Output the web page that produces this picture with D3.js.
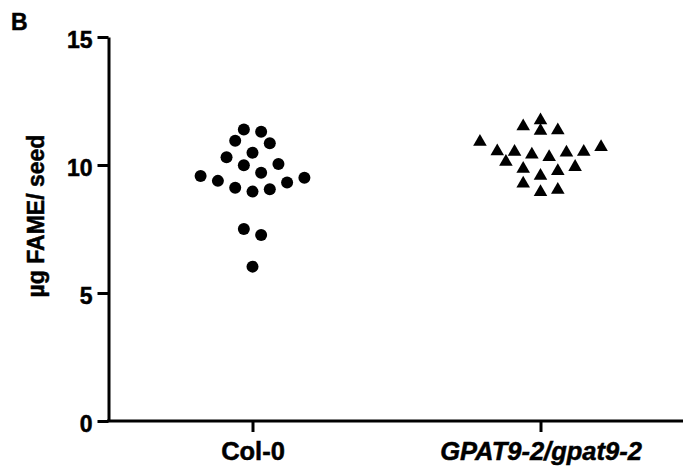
<!DOCTYPE html>
<html>
<head>
<meta charset="utf-8">
<script src="https://cdn.jsdelivr.net/npm/d3@7"></script>
<style>
  html, body { margin: 0; padding: 0; background: #fff; }
  svg { display: block; }
  text { font-family: "Liberation Sans", Arial, Helvetica, sans-serif; font-weight: bold; fill: #000; stroke: #000; stroke-width: 0.5px; }
</style>
</head>
<body>
<svg id="chart" width="683" height="469"></svg>
<script>
// ---- data ----
const categories = ["Col-0", "GPAT9-2/gpat9-2"];
const col0Values = [11.39, 11.30, 10.95, 10.85, 10.48, 10.30, 10.04, 9.99, 9.70, 9.57, 9.50, 9.38, 9.32, 9.11, 9.05, 8.96, 7.50, 7.27, 6.03];
const gpatValues = [11.82, 11.59, 11.43, 11.41, 10.98, 10.78, 10.61, 10.59, 10.59, 10.56, 10.48, 10.39, 10.20, 10.00, 9.93, 9.84, 9.65, 9.35, 9.11, 9.02];
const yTicks = [0, 5, 10, 15];
const yLabel = "µg FAME/ seed";
const panelLabel = "B";

const seriesValues = [col0Values, gpatValues];

const svg = d3.select("#chart");

const x = d3.scalePoint().domain(categories).range([108.5, 684.5]).padding(0.5);
const y = d3.scaleLinear().domain([0, 15]).range([421, 37]);

// column-scatter layout: group nearby values into rows, spread each row
const binner = d3.bin().domain([0, 15]).thresholds(d3.range(0.53, 15, 0.7));
const spacing = 17.3;
function layout(values, cat) {
  const pts = [];
  binner(values).forEach(b => {
    const sorted = b.slice().sort((a, c) => c - a);
    const n = sorted.length;
    const order = [];
    let lo = 0, hi = n - 1, left = true;
    while (lo <= hi) { order.push(left ? lo++ : hi--); left = !left; }
    sorted.forEach((v, k) => {
      const pos = order[k];
      pts.push({ v, cx: x(cat) + (pos - (n - 1) / 2) * spacing, cy: y(v) });
    });
  });
  return pts;
}

// y axis
const yAxis = d3.axisLeft(y).tickValues(yTicks).tickSize(11).tickSizeOuter(0).tickPadding(6).tickFormat(d3.format("d"));
const gy = svg.append("g").attr("transform", "translate(108.5,0)").call(yAxis);
gy.select(".domain").attr("stroke", "#000").attr("stroke-width", 3);
gy.selectAll(".tick line").attr("stroke", "#000").attr("stroke-width", 3);
gy.selectAll(".tick text").attr("font-size", 23).attr("dy", "0.45em").attr("x", -16);

// x axis
const xAxis = d3.axisBottom(x).tickSize(11).tickSizeOuter(0).tickPadding(10);
const gx = svg.append("g").attr("transform", "translate(0,421)").call(xAxis);
gx.select(".domain").attr("stroke", "#000").attr("stroke-width", 3).attr("d", "M107,0H683");
gx.selectAll(".tick line").attr("stroke", "#000").attr("stroke-width", 3);
gx.selectAll(".tick text")
  .attr("font-size", 25.5)
  .attr("dy", null)
  .attr("y", 39)
  .attr("font-style", (d, i) => i === 1 ? "italic" : "normal");

// y axis title
svg.append("text")
  .attr("transform", "translate(44,216) rotate(-90)")
  .attr("text-anchor", "middle")
  .attr("font-size", 23)
  .text(yLabel);

// panel letter
svg.append("text").attr("x", 11).attr("y", 30).attr("font-size", 23).text(panelLabel);

// Col-0 circles
svg.append("g").selectAll("circle")
  .data(layout(seriesValues[0], categories[0]))
  .join("circle")
  .attr("cx", d => d.cx).attr("cy", d => d.cy).attr("r", 6).attr("fill", "#000");

// GPAT triangles (bounding box centred on the value)
const triCentered = {
  draw(context, size) {
    const w = Math.sqrt(size * 4 / Math.sqrt(3));
    const h = w * Math.sqrt(3) / 2;
    context.moveTo(0, -h / 2);
    context.lineTo(w / 2, h / 2);
    context.lineTo(-w / 2, h / 2);
    context.closePath();
  }
};
const triPath = d3.symbol().type(triCentered).size(80)();
svg.append("g").selectAll("path")
  .data(layout(seriesValues[1], categories[1]))
  .join("path")
  .attr("d", triPath)
  .attr("transform", d => `translate(${d.cx},${d.cy})`)
  .attr("fill", "#000");
</script>
</body>
</html>
